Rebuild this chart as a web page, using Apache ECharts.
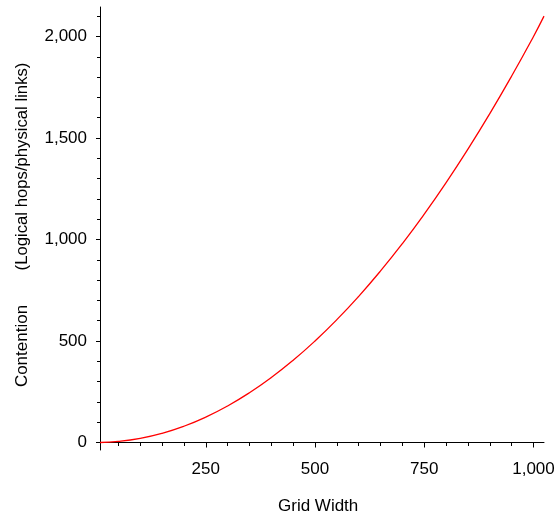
<!DOCTYPE html>
<html>
<head>
<meta charset="utf-8">
<script src="https://cdn.jsdelivr.net/npm/echarts@6/dist/echarts.min.js"></script>
<style>
  html, body { margin: 0; padding: 0; background: #fff; }
  #chart { width: 558px; height: 516px; }
</style>
</head>
<body>
<div id="chart"></div>
<script>
// 数据
const gridWidth = [8, 50, 100, 150, 200, 250, 300, 350, 400, 450, 500, 550, 600, 650, 700, 750, 800, 850, 900, 950, 1000, 1024]
const contention = [0, 5, 20, 45, 80, 125, 180, 245, 320, 405, 500, 605, 720, 845, 980, 1125, 1280, 1445, 1620, 1805, 2000, 2100]

const xTitle = 'Grid Width'
const yTitleMain = 'Contention'
const yTitleUnit = '(Logical hops/physical links)'

const font = 'Liberation Sans, Arial, sans-serif'
const black = '#000'

const chart = echarts.init(document.getElementById('chart'))

const option = {
  animation: false,
  grid: [
    // 主图：坐标轴线 + 曲线
    { left: 100, right: 14, top: 7, bottom: 66 },
    // 小刻度
    { left: 118.4, right: 24.5, top: 16.2, bottom: 73.5 },
    // 大刻度 + 标签
    { left: 205.8, right: 24.5, top: 36.5, bottom: 73.5 }
  ],
  xAxis: [
    {
      type: 'value', gridIndex: 0, min: 8, max: 1024,
      axisLine: { onZero: true, lineStyle: { color: black, width: 1 } },
      axisTick: { show: false }, axisLabel: { show: false }, splitLine: { show: false }
    },
    {
      type: 'value', gridIndex: 1, min: 50, max: 1000, interval: 50,
      axisLine: { show: false },
      axisTick: { show: true, length: 3.5, lineStyle: { color: black } },
      axisLabel: { show: false }, splitLine: { show: false }
    },
    {
      type: 'value', gridIndex: 2, min: 250, max: 1000, interval: 250,
      axisLine: { show: false },
      axisTick: { show: true, length: 5, lineStyle: { color: black } },
      axisLabel: { show: true, margin: 18, color: black, fontSize: 17, fontFamily: font },
      splitLine: { show: false }
    }
  ],
  yAxis: [
    {
      type: 'value', gridIndex: 0, min: -37, max: 2145,
      axisLine: { show: true, onZero: false, lineStyle: { color: black, width: 1 } },
      axisTick: { show: false }, axisLabel: { show: false }, splitLine: { show: false }
    },
    {
      type: 'value', gridIndex: 1, min: 0, max: 2100, interval: 100, offset: 18.4,
      axisLine: { show: false },
      axisTick: { show: true, length: 3, lineStyle: { color: black } },
      axisLabel: { show: false }, splitLine: { show: false }
    },
    {
      type: 'value', gridIndex: 2, min: 0, max: 2000, interval: 500, offset: 105.8,
      axisLine: { show: false },
      axisTick: { show: true, length: 4, lineStyle: { color: black } },
      axisLabel: {
        show: true, margin: 13, color: black, fontSize: 17, fontFamily: font,
        padding: [6, 0, 0, 0]
      },
      splitLine: { show: false }
    }
  ],
  graphic: [
    {
      type: 'text', left: 278, top: 498,
      style: { text: xTitle, fill: black, font: '17px ' + font }
    },
    {
      type: 'text', x: 22, y: 346, rotation: Math.PI / 2,
      style: { text: yTitleMain, fill: black, font: '17px ' + font, align: 'center', verticalAlign: 'middle' }
    },
    {
      type: 'text', x: 22, y: 166.5, rotation: Math.PI / 2,
      style: { text: yTitleUnit, fill: black, font: '16.7px ' + font, align: 'center', verticalAlign: 'middle' }
    }
  ],
  series: [
    {
      type: 'line',
      xAxisIndex: 0,
      yAxisIndex: 0,
      data: gridWidth.map((x, i) => [x, contention[i]]),
      smooth: true,
      showSymbol: false,
      lineStyle: { color: '#ff0000', width: 1.3 }
    }
  ]
}

chart.setOption(option)
</script>
</body>
</html>
